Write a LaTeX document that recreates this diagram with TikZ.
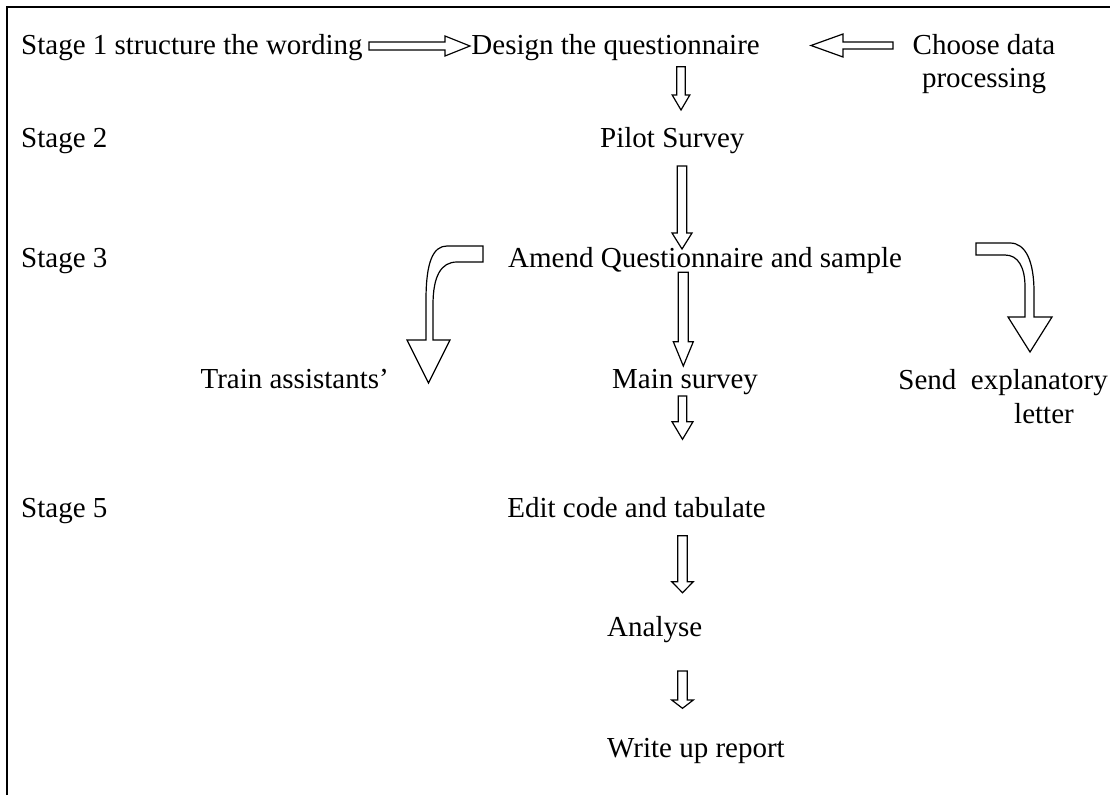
\documentclass[tikz,border=0pt]{standalone}
\usepackage{fontspec}
\setmainfont{Liberation Serif}
\newcommand\dnarrow[6]{% cx, top, head base, tip, shaft half width, head half width
  \draw[barrow] (#1-#5,#2) -- (#1+#5,#2) -- (#1+#5,#3) -- (#1+#6,#3) -- (#1,#4) -- (#1-#6,#3) -- (#1-#5,#3) -- cycle;}
\tikzset{
  lbl/.style={inner sep=0pt, font=\fontsize{29}{33}\selectfont},
  barrow/.style={draw=black, line width=1.2pt, fill=white, line join=miter},
  framel/.style={line width=1.6pt}
}
\begin{document}
\begin{tikzpicture}[x=1pt, y=-1pt]
\useasboundingbox (0,0) rectangle (1110,795);
\fill[white] (0,0) rectangle (1110,795);
% frame
\draw[framel] (7,795) -- (7,7) -- (1110,7);
% texts
\node[lbl, anchor=base west] (s1) at (21,54) {Stage 1 structure the wording};
\node[lbl, anchor=base east] (design) at (760,54) {Design the questionnaire};
\node[lbl, anchor=base] (choose) at (984,54) {Choose data};
\node[lbl, anchor=base] (proc) at (984,87) {processing};
\node[lbl, anchor=base west] (s2) at (21,147) {Stage 2};
\node[lbl, anchor=base west] (pilot) at (600,147) {Pilot Survey};
\node[lbl, anchor=base west] (s3) at (21,267) {Stage 3};
\node[lbl, anchor=base west] (amend) at (508,267) {Amend Questionnaire and sample};
\node[lbl, anchor=base east] (train) at (389,388) {Train assistants’};
\node[lbl, anchor=base west] (main) at (612,388) {Main survey};
\node[lbl, anchor=base east] (send) at (1108,389) {Send\ \ explanatory};
\node[lbl, anchor=base] (letter) at (1044,423) {letter};
\node[lbl, anchor=base west] (s5) at (21,517) {Stage 5};
\node[lbl, anchor=base east] (edit) at (766,517) {Edit code and tabulate};
\node[lbl, anchor=base west] (analyse) at (607,636) {Analyse};
\node[lbl, anchor=base west] (write) at (607,757) {Write up report};
% horizontal arrows
\draw[barrow] (369,42) -- (445,42) -- (445,36) -- (470,46) -- (445,56) -- (445,50) -- (369,50) -- cycle;
\draw[barrow] (893,42) -- (843,42) -- (843,34) -- (811,45.5) -- (843,57) -- (843,49) -- (893,49) -- cycle;
% vertical arrows
\dnarrow{681}{66.7}{95}{110}{4.2}{8.8}
\dnarrow{682}{166}{233}{249}{4.7}{10}
\dnarrow{683.3}{272.3}{341.7}{366}{5}{10}
\dnarrow{682.5}{396}{421.7}{439.3}{4.2}{10.5}
\dnarrow{682.5}{535.7}{581.7}{592.7}{4.8}{10.8}
\dnarrow{682.5}{671}{700}{708.3}{4.8}{10.8}
% curved arrow to the left
\draw[barrow] (483,246) -- (447,246) .. controls (433,246) and (426,262) .. (426,300) -- (426,340)
  -- (407,340) -- (428.5,383) -- (450,340) -- (433,340) -- (433,305)
  .. controls (433,276) and (441,262) .. (457,262) -- (483,262) -- cycle;
% curved arrow to the right
\draw[barrow] (976,243) -- (1010,243) .. controls (1026,243) and (1034,262) .. (1034,292) -- (1034,317)
  -- (1052,317) -- (1030,352) -- (1008,317) -- (1025,317) -- (1025,287)
  .. controls (1025,267) and (1018,255) .. (1005,255) -- (976,255) -- cycle;
\end{tikzpicture}
\end{document}
